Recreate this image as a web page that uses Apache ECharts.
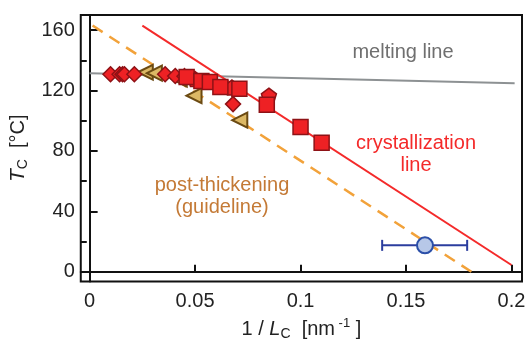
<!DOCTYPE html>
<html>
<head>
<meta charset="utf-8">
<script src="https://cdn.jsdelivr.net/npm/echarts@6/dist/echarts.min.js"></script>
<style>
  html, body { margin: 0; padding: 0; background: #fff; }
  #chart { width: 531px; height: 346px; }
</style>
</head>
<body>
<div id="chart"></div>
<script>
// fitted lines: [1/Lc, Tc]
const meltingLine = [[0, 131.5], [0.2015, 124.8]];
const crystLine = [[0.025, 163], [0.2, 4.5]];
const postThickLine = [[0.0014, 163], [0.181, 0]];

// measured points
const redDiamonds = [[0.0099, 130.8], [0.0142, 130.8], [0.0156, 130.8], [0.0165, 130.8], [0.0212, 130.8],
  [0.0358, 130.8], [0.0406, 129.6], [0.045, 129.5], [0.068, 111]];
const redSquares = [[0.046, 128.9], [0.053, 126.3], [0.057, 125.7], [0.062, 122.4], [0.071, 121.1],
  [0.084, 110.5], [0.1, 95.9], [0.11, 85.5]];
const redPentagons = [[0.05, 127.6], [0.0675, 122], [0.085, 116.6]];
const triangles = [[0.0264, 132.1], [0.0307, 131.5], [0.0425, 127.6], [0.0495, 116.6], [0.0712, 100.4]];
const errPoint = [[0.159, 17.5]];
const errRange = [[0.1387, 17.5], [0.179, 17.5]];

// ticks
const xTicks = [0, 0.05, 0.1, 0.15, 0.2];
const yMajor = [0, 40, 80, 120, 160];
const yMinor = [20, 60, 100, 140];

const font = '"Liberation Sans", Arial, sans-serif';
const red = '#ee2124';
const redEdge = '#8e1216';
const pentagon = 'path://M0,-1 L0.951,-0.309 L0.588,0.809 L-0.588,0.809 L-0.951,-0.309 Z';

const chart = echarts.init(document.getElementById('chart'));

const option = {
  animation: false,
  grid: {
    left: 78, right: 9, top: 15, bottom: 59,
    show: true, borderColor: '#111', borderWidth: 2
  },
  xAxis: {
    type: 'value',
    min: -0.0042, max: 0.205,
    name: '1 / {i|L}{s|C}  [nm{sup| -1} ]',
    nameLocation: 'middle',
    nameGap: 33,
    nameTextStyle: {
      color: '#222', fontSize: 20, fontFamily: font,
      rich: {
        i: { fontStyle: 'italic', fontSize: 20, fontFamily: font, color: '#222' },
        s: { fontSize: 14, fontFamily: font, color: '#222', padding: [10, 0, 0, 0] },
        sup: { fontSize: 13, fontFamily: font, color: '#222', padding: [0, 0, 12, 0] }
      }
    },
    axisLine: { lineStyle: { color: '#111', width: 2 } },
    axisTick: { inside: true, length: 7, customValues: xTicks, lineStyle: { color: '#111', width: 2 } },
    axisLabel: {
      customValues: xTicks, margin: 10,
      color: '#222', fontSize: 20, fontFamily: font,
      formatter: v => String(v)
    },
    splitLine: { show: false }
  },
  yAxis: [
    {
      type: 'value',
      min: -6.5, max: 170,
      name: '{i|T}{s|C}  [°C]',
      nameLocation: 'middle',
      nameGap: 48,
      nameTextStyle: {
        color: '#222', fontSize: 20, fontFamily: font,
        rich: {
          i: { fontStyle: 'italic', fontSize: 21, fontFamily: font, color: '#222' },
          s: { fontSize: 14, fontFamily: font, color: '#222', padding: [10, 0, 0, 0] }
        }
      },
      axisLine: { lineStyle: { color: '#111', width: 2 } },
      axisTick: { inside: true, length: 8, customValues: yMajor, lineStyle: { color: '#111', width: 2 } },
      axisLabel: {
        customValues: yMajor, margin: 6,
        color: '#222', fontSize: 20, fontFamily: font
      },
      splitLine: { show: false }
    },
    {
      type: 'value',
      position: 'left',
      min: -6.5, max: 170,
      axisLine: { show: false },
      axisTick: { show: true, inside: true, length: 6, customValues: yMinor, lineStyle: { color: '#111', width: 2 } },
      axisLabel: { show: false },
      splitLine: { show: false }
    }
  ],
  series: [
    {
      type: 'line', data: meltingLine, symbol: 'none', z: 2,
      lineStyle: { color: '#8d9193', width: 2 }
    },
    {
      type: 'line', data: postThickLine, symbol: 'none', z: 2,
      lineStyle: { color: '#f2a23a', width: 2.5, type: [12, 8] }
    },
    {
      type: 'line', data: crystLine, symbol: 'none', z: 2,
      lineStyle: { color: '#f42a2a', width: 2 }
    },
    {
      type: 'scatter', data: triangles, symbol: 'triangle', symbolRotate: 90, symbolSize: 15, z: 3,
      itemStyle: { color: '#dcb865', borderColor: '#6b4a12', borderWidth: 2, opacity: 1 }
    },
    {
      type: 'scatter', data: redDiamonds, symbol: 'diamond', symbolSize: 15, z: 4,
      itemStyle: { color: red, borderColor: redEdge, borderWidth: 1.5, opacity: 1 }
    },
    {
      type: 'scatter', data: redPentagons, symbol: pentagon, symbolSize: 15, z: 4,
      itemStyle: { color: red, borderColor: redEdge, borderWidth: 1.5, opacity: 1 }
    },
    {
      type: 'scatter', data: redSquares, symbol: 'rect', symbolSize: 15, z: 4,
      itemStyle: { color: red, borderColor: redEdge, borderWidth: 1.5, opacity: 1 }
    },
    {
      type: 'line', data: errRange, symbol: 'rect', symbolSize: [2, 11], z: 5,
      itemStyle: { color: '#2b3d9e' },
      lineStyle: { color: '#2b3d9e', width: 2 }
    },
    {
      type: 'scatter', data: errPoint, symbol: 'circle', symbolSize: 16, z: 6,
      itemStyle: { color: '#b7c8e8', borderColor: '#2b4fa8', borderWidth: 2, opacity: 1 }
    }
  ],
  graphic: [
    {
      type: 'text', x: 403, y: 42,
      style: { text: 'melting line', fill: '#6f6f6f', font: '20px ' + font, align: 'center', verticalAlign: 'top' }
    },
    {
      type: 'text', x: 416, y: 132,
      style: { text: 'crystallization\nline', fill: '#f42a2a', font: '20px ' + font, align: 'center', verticalAlign: 'top', lineHeight: 22 }
    },
    {
      type: 'text', x: 222, y: 174,
      style: { text: 'post-thickening\n(guideline)', fill: '#c47a36', font: '20px ' + font, align: 'center', verticalAlign: 'top', lineHeight: 22 }
    }
  ]
};

chart.setOption(option);
</script>
</body>
</html>
